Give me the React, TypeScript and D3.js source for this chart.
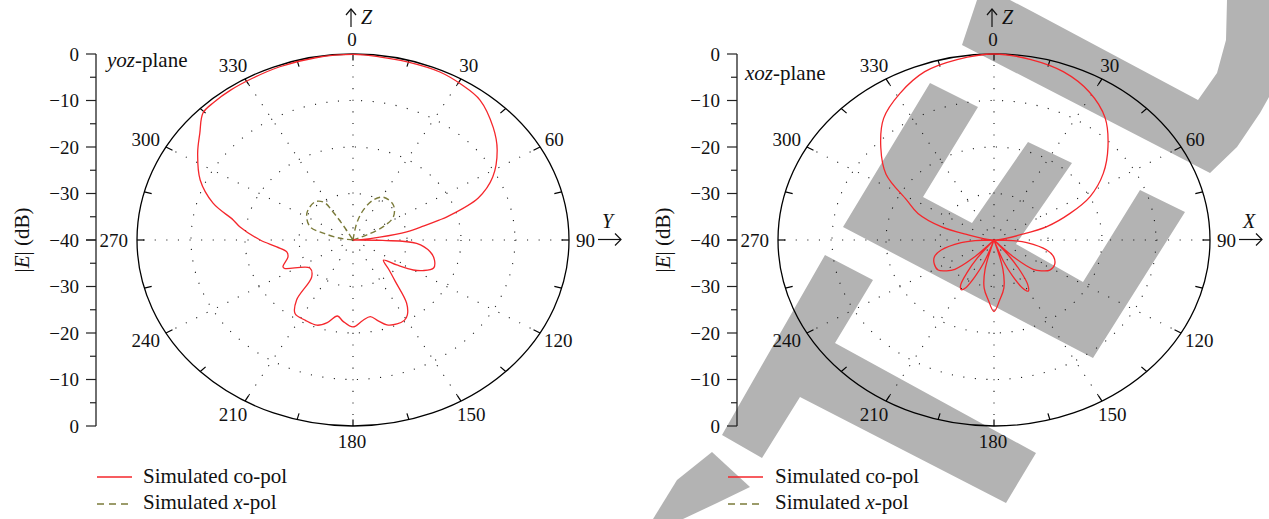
import React from "react";
import * as d3 from "d3";

const W = 1269;
const H = 519;

// ---- tick labels / axes ----
const radialTicks = [0, -10, -20, -30, -40];
const gridLevels = [-10, -20, -30];
const angleTicks = [0, 30, 60, 90, 120, 150, 180, 210, 240, 270, 300, 330];
const legendLabels = ["Simulated co-pol", "Simulated x-pol"];

// ---- yoz-plane, simulated co-pol (angle deg, |E| dB) ----
const yozAngles = [
  0, 7, 15, 24, 31, 38, 47, 54, 62.4, 68.7, 74, 75, 77, 80, 83, 86.5, 90,
  91, 93.5, 100, 106, 112, 117, 120, 123.6, 127.5, 134, 138.6, 143.8, 148, 151,
  155.7, 161, 165, 169, 174, 180, 186, 190, 195, 200, 207, 214.2, 219, 224,
  233, 244, 246, 253, 258, 264, 270, 277.6, 281, 287, 294.5, 303, 309, 314.5,
  319, 325, 332, 340, 350,
];
const yozCoPol = [
  -0.1, -0.3, -0.4, -0.45, -1.0, -1.8, -4.5, -7.0, -10.8, -15.1, -21.9, -23.5,
  -26.5, -29.9, -35, -38.5, -40,
  -34.5, -28.2, -25.5, -24.3, -23.9, -25.5, -27.1, -30.3, -32.9, -30.7, -28.2,
  -23.2, -21.0, -20.3, -20.2, -20.7, -22.0, -23.2, -22.6, -21.3, -22.4, -23.4,
  -21.6, -20.5, -20.6, -20.9, -23.4, -29.0, -30.0, -26.0, -25.8, -27.4, -27.5,
  -25.8, -22.8, -18.9, -17.4, -12.9, -8.9, -5.7, -3.5, -1.05, -0.75, -0.6,
  -0.55, -0.35, -0.2,
];

// ---- yoz-plane, simulated x-pol ----
const yozXAngles = [
  8, 10.7, 16.5, 23.6, 31.5, 44.8, 56.3, 62.9, 66.8, 70,
  276, 279, 285, 290, 304, 319.5, 326.5, 328.5, 330, 332,
];
const yozXPol = [
  -40, -36.4, -33.3, -30.6, -29.2, -29.4, -31, -33.7, -37.2, -40,
  -40, -37.6, -34.3, -31.5, -29.7, -29.2, -30.3, -33, -36.5, -40,
];

// ---- xoz-plane, simulated co-pol ----
const xozAngles = [
  0, 10, 19.5, 29, 38, 46.5, 54.7, 62.3, 67.9, 73.6, 77.3, 81, 85, 88,
  92, 95.4, 102.5, 108, 115, 122, 127, 131, 135, 138,
  141, 144, 147, 150, 153, 156, 159, 162,
  165.4, 170, 175.4, 180, 184.6, 190, 194.6, 198,
  201, 204, 207, 209.5, 212.5, 215.5, 218.5, 221.5,
  225, 229, 233, 238, 245, 252, 257.5, 264.6, 268, 272,
  275, 279, 282.7, 286.4, 292.1, 298, 305.3, 313.5, 322, 331, 340.5, 350,
];
const xozCoPol = [
  0, -0.6, -1.6, -3.6, -6.6, -10.9, -15.2, -19.9, -24.8, -29.8, -35.1, -38, -39.6, -40,
  -36.5, -33.9, -30, -28.4, -27.6, -27.8, -29, -30.4, -34.5, -40,
  -35.5, -31.5, -28.5, -27.3, -28.5, -31.5, -35, -40,
  -33.4, -29.5, -27.0, -24.6, -27.0, -29.5, -33.4, -40,
  -35, -31.5, -28.5, -27.7, -28.5, -31.5, -35, -40,
  -34.5, -30.4, -29, -27.8, -27.8, -28.4, -30, -33.9, -36.5, -40,
  -39.6, -38, -35.1, -29.8, -24.8, -21.7, -15.5, -11.1, -6.8, -4.0, -1.6, -0.6,
];

// grey watermark behind the right panel (decoration, not data)
const WATERMARK: number[][][] = [
  [[962, 45], [977, 0], [1010, 0], [1035, 13], [1198, 100], [1217, 73], [1226, 40], [1227, 0], [1269, 0], [1269, 97], [1260, 113], [1237, 147], [1210, 173]],
  [[843, 227], [930, 83], [978, 107], [923, 197], [972, 223], [1028, 142], [1072, 163], [1016, 244], [1083, 282], [1140, 190], [1185, 212], [1093, 358]],
  [[825, 255], [873, 280], [835, 343], [1036, 453], [1006, 503], [800, 397], [762, 458], [722, 435]],
  [[712, 452], [750, 487], [717, 503], [683, 519], [653, 519], [677, 480]],
];

const FONT = "'Liberation Serif', 'Times New Roman', serif";
const RED = "#f5262b";
const OLIVE = "#7b7b3a";

type Pt = [number, number];

function segments(angles: number[], vals: number[]): Pt[][] {
  const pts: Pt[] = angles.map((a, i) => [a, vals[i]]);
  const isC = (p: Pt) => p[1] <= -40;
  const s = pts.findIndex(isC);
  if (s < 0) return [[...pts, pts[0]]];
  const rot = [...pts.slice(s), ...pts.slice(0, s), pts[s]];
  const segs: Pt[][] = [];
  let cur: Pt[] = [rot[0]];
  for (let i = 1; i < rot.length; i++) {
    cur.push(rot[i]);
    if (isC(rot[i])) {
      if (cur.some((p) => !isC(p))) segs.push(cur);
      cur = [rot[i]];
    }
  }
  return segs;
}

function Panel(props: {
  cx: number;
  title: string;
  titleX: number;
  titleY: number;
  letter: string;
  legendX: number;
  legendTextX: number;
  co: [number[], number[]];
  xp?: [number[], number[]];
}) {
  const { cx, title, titleX, titleY, letter, legendX, legendTextX, co, xp } = props;
  const cy = 240;
  const rx = 216;
  const ry = 186;
  const axisX = cx - 257;
  const rs = d3.scaleLinear().domain([-40, 0]).range([0, 1]).clamp(true);
  const projK = (deg: number, k: number): Pt => {
    const a = (deg * Math.PI) / 180;
    return [cx + rx * k * Math.sin(a), cy - ry * k * Math.cos(a)];
  };
  const proj = (deg: number, db: number): Pt => projK(deg, rs(db));
  const yUp = d3.scaleLinear().domain([-40, 0]).range([cy, cy - ry]);
  const line = d3
    .line<Pt>()
    .x((p) => proj(p[0], p[1])[0])
    .y((p) => proj(p[0], p[1])[1])
    .curve(d3.curveCatmullRom.alpha(0.5));
  const coPath = segments(co[0], co[1]).map((s) => line(s)).join("");
  const xPath = xp ? segments(xp[0], xp[1]).map((s) => line(s)).join("") : "";
  const tickAngles = d3.range(0, 360, 15);
  const minor = d3.range(-40, 1, 5);
  const dotted = { stroke: "#1a1a1a", strokeWidth: 1.1, strokeDasharray: "1.1 10.5", fill: "none" };

  return (
    <g>
      {gridLevels.map((l) => (
        <ellipse key={"g" + l} cx={cx} cy={cy} rx={rx * rs(l)} ry={ry * rs(l)} {...dotted} />
      ))}
      {angleTicks.map((a) => {
        const [x, y] = proj(a, 0);
        return <line key={"s" + a} x1={cx} y1={cy} x2={x} y2={y} {...dotted} />;
      })}
      <ellipse cx={cx} cy={cy} rx={rx} ry={ry} fill="none" stroke="#000" strokeWidth={1.3} />
      {tickAngles.map((a) => {
        const [x1, y1] = projK(a, 1);
        const [x2, y2] = projK(a, 0.965);
        return <line key={"t" + a} x1={x1} y1={y1} x2={x2} y2={y2} stroke="#000" strokeWidth={1.2} />;
      })}
      {/* angle labels */}
      {angleTicks.map((a) => {
        const [x, y] = proj(a, 0);
        const rad = (a * Math.PI) / 180;
        const w = String(a).length * 9.5;
        const tx = x + Math.sin(rad) * (8 + w / 2) - 1;
        const ty = y - Math.cos(rad) * 15;
        return (
          <text key={"al" + a} x={tx} y={ty + 6.5} textAnchor="middle" fontSize={19} fontFamily={FONT} fill="#111">
            {a}
          </text>
        );
      })}
      {/* Z arrow at top */}
      <g stroke="#111" strokeWidth={1.2} fill="none">
        <line x1={cx - 2} y1={27} x2={cx - 2} y2={9} />
        <polyline points={`${cx - 7},${15} ${cx - 2},${9} ${cx + 3},${15}`} />
      </g>
      <text x={cx + 8} y={24} fontSize={20} fontStyle="italic" fontFamily={FONT} fill="#111">Z</text>
      {/* horizontal arrow at 90 */}
      <g stroke="#111" strokeWidth={1.2} fill="none">
        <line x1={cx + rx + 29} y1={239.5} x2={cx + rx + 52} y2={239.5} />
        <polyline points={`${cx + rx + 46},${233.5} ${cx + rx + 52},${239.5} ${cx + rx + 46},${245.5}`} />
      </g>
      <text x={cx + rx + 33} y={228} fontSize={20} fontStyle="italic" fontFamily={FONT} fill="#111">{letter}</text>

      {/* curves */}
      {xPath && <path d={xPath} fill="none" stroke={OLIVE} strokeWidth={1.4} strokeDasharray="6 3.5" />}
      <path d={coPath} fill="none" stroke={RED} strokeWidth={1.3} />

      {/* vertical |E| axis */}
      <line x1={axisX} y1={cy - ry} x2={axisX} y2={cy + ry} stroke="#222" strokeWidth={1.3} />
      {minor.map((v) => {
        const len = v % 10 === 0 ? 10 : 6;
        return (
          <g key={"m" + v}>
            <line x1={axisX - len} x2={axisX} y1={yUp(v)} y2={yUp(v)} stroke="#222" strokeWidth={1.2} />
            <line x1={axisX - len} x2={axisX} y1={2 * cy - yUp(v)} y2={2 * cy - yUp(v)} stroke="#222" strokeWidth={1.2} />
          </g>
        );
      })}
      {radialTicks.map((v) => {
        const lab = v === 0 ? "0" : "\u2212" + Math.abs(v);
        const ys = v === -40 ? [yUp(v)] : [yUp(v), 2 * cy - yUp(v)];
        return ys.map((y, i) => (
          <text key={"yl" + v + i} x={axisX - 17} y={y + 6.5} textAnchor="end" fontSize={19} fontFamily={FONT} fill="#111">
            {lab}
          </text>
        ));
      })}
      <text
        transform={`translate(${axisX - 67},${cy}) rotate(-90)`}
        textAnchor="middle"
        fontSize={21}
        fontFamily={FONT}
        fill="#111"
      >
        |<tspan fontStyle="italic">E</tspan>| (dB)
      </text>
      <text x={titleX} y={titleY} fontSize={21} fontFamily={FONT} fill="#111">
        <tspan fontStyle="italic">{title}</tspan>-plane
      </text>

      {/* legend */}
      <line x1={legendX} x2={legendX + 35} y1={477} y2={477} stroke={RED} strokeWidth={1.3} />
      <text x={legendTextX} y={483} fontSize={21} fontFamily={FONT} fill="#111">{legendLabels[0]}</text>
      <line x1={legendX} x2={legendX + 35} y1={504} y2={504} stroke={OLIVE} strokeWidth={1.4} strokeDasharray="7 5" />
      <text x={legendTextX} y={509} fontSize={21} fontFamily={FONT} fill="#111">
        Simulated <tspan fontStyle="italic">x</tspan>-pol
      </text>
    </g>
  );
}

export default function App() {
  return (
    <svg
      width={W}
      height={H}
      viewBox={`0 0 ${W} ${H}`}
      style={{ position: "absolute", left: 0, top: 0, background: "#fff" }}
    >
      <rect width={W} height={H} fill="#fff" />
      {WATERMARK.map((poly, i) => (
        <polygon key={i} points={poly.map((p) => p.join(",")).join(" ")} fill="#b3b3b3" />
      ))}
      <Panel
        cx={353}
        title="yoz"
        titleX={107}
        titleY={67}
        letter="Y"
        legendX={97}
        legendTextX={143}
        co={[yozAngles, yozCoPol]}
        xp={[yozXAngles, yozXPol]}
      />
      <Panel
        cx={994}
        title="xoz"
        titleX={745}
        titleY={80}
        letter="X"
        legendX={728}
        legendTextX={775}
        co={[xozAngles, xozCoPol]}
      />
    </svg>
  );
}
